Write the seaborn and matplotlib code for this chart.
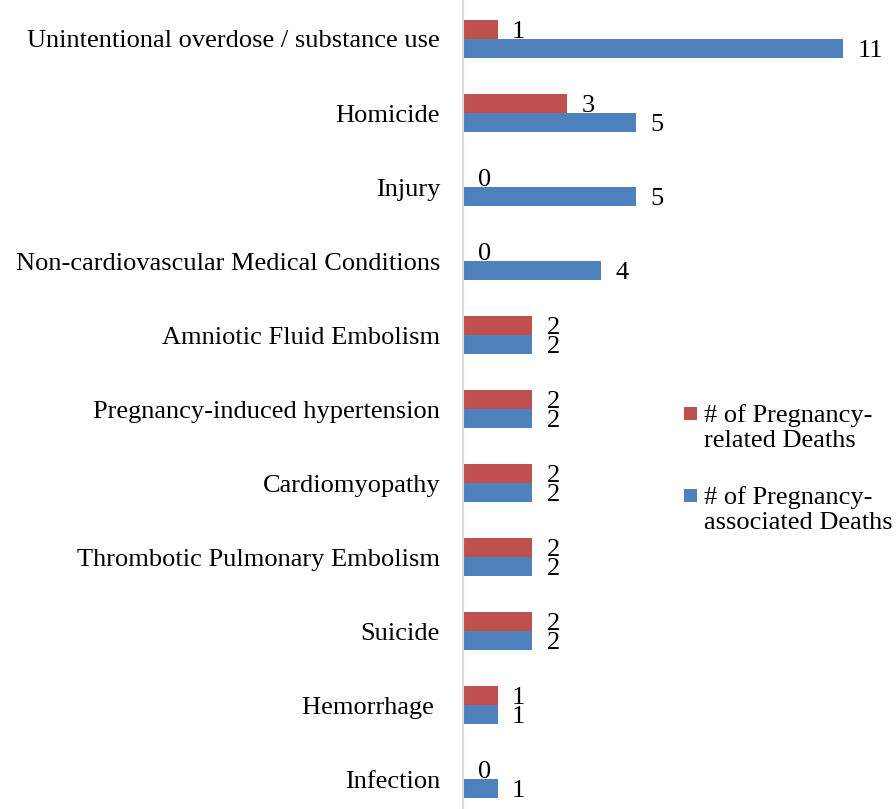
import matplotlib
matplotlib.use("Agg")
import matplotlib.pyplot as plt
from matplotlib.patches import Rectangle
from matplotlib.legend_handler import HandlerPatch
import seaborn as sns
import pandas as pd

categories = [
    "Unintentional overdose / substance use",
    "Homicide",
    "Injury",
    "Non-cardiovascular Medical Conditions",
    "Amniotic Fluid Embolism",
    "Pregnancy-induced hypertension",
    "Cardiomyopathy",
    "Thrombotic Pulmonary Embolism",
    "Suicide",
    "Hemorrhage ",
    "Infection",
]
related = [1, 3, 0, 0, 2, 2, 2, 2, 2, 1, 0]
associated = [11, 5, 5, 4, 2, 2, 2, 2, 2, 1, 1]
series_names = ["# of Pregnancy-\nrelated Deaths", "# of Pregnancy-\nassociated Deaths"]
colors = ["#C0504D", "#4F81BD"]

df = pd.DataFrame({
    "category": categories * 2,
    "value": related + associated,
    "series": [series_names[0]] * len(categories) + [series_names[1]] * len(categories),
})

sns.set_style("white")
plt.rcParams["font.family"] = ["Liberation Serif", "DejaVu Serif"]
plt.rcParams["text.color"] = "black"
FS = 19

fig = plt.figure(figsize=(8.96, 8.09), dpi=100)
ax = fig.add_axes([463 / 896, 0, (843 - 463) / 896, 1])

sns.barplot(data=df, y="category", x="value", hue="series", order=categories,
            hue_order=series_names, palette=colors, orient="h", width=0.514,
            saturation=1, ax=ax, edgecolor="none", linewidth=0)

ax.set_xlim(0, 11)
ax.set_ylim(10.405, -0.527)
ax.set_xlabel("")
ax.set_ylabel("")
ax.set_xticks([])
ax.tick_params(axis="y", length=0, pad=16.5, labelsize=FS, labelcolor="black")
for s in ["top", "right", "bottom"]:
    ax.spines[s].set_visible(False)
ax.spines["left"].set_color("#D9D9D9")
ax.spines["left"].set_linewidth(1.5)

for cont in ax.containers:
    for patch, v in zip(cont.patches, cont.datavalues):
        y = patch.get_y() + patch.get_height() / 2
        ax.annotate(f"{int(v)}", xy=(patch.get_width(), y), xytext=(10.5, -1.5),
                    textcoords="offset points", ha="left", va="center",
                    fontsize=FS, color="black", annotation_clip=False)


def top_square(legend, orig_handle, xdescent, ydescent, width, height, fontsize):
    sq = 0.5 * fontsize
    return Rectangle((-xdescent, 0.64 * fontsize), sq, sq)


leg = ax.legend(loc="upper left", bbox_to_anchor=(684 / 896, 1 - 404 / 809),
                bbox_transform=fig.transFigure, frameon=False, fontsize=FS,
                handlelength=0.5, handleheight=0.7, handletextpad=0.25,
                labelspacing=1.27, borderpad=0, borderaxespad=0, labelcolor="black",
                handler_map={Rectangle: HandlerPatch(patch_func=top_square)})

fig.savefig("out.png", dpi=100)
